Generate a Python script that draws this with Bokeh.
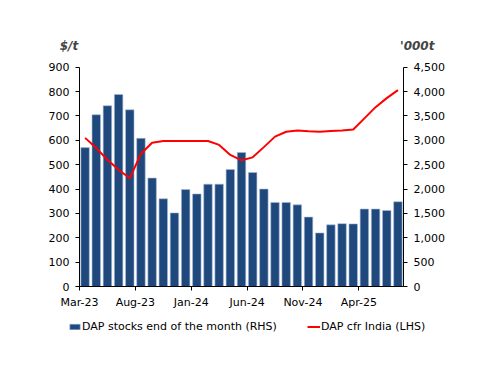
from bokeh.plotting import figure
from bokeh.models import Range1d, LinearAxis, FixedTicker, NumeralTickFormatter, Label, Legend, LegendItem, ColumnDataSource
from bokeh.embed import file_html
from bokeh.resources import INLINE

months = ["Mar-23","Apr-23","May-23","Jun-23","Jul-23","Aug-23","Sep-23","Oct-23","Nov-23","Dec-23",
          "Jan-24","Feb-24","Mar-24","Apr-24","May-24","Jun-24","Jul-24","Aug-24","Sep-24","Oct-24",
          "Nov-24","Dec-24","Jan-25","Feb-25","Mar-25","Apr-25","May-25","Jun-25","Jul-25"]
stocks = [2850, 3525, 3710, 3940, 3625, 3040, 2225, 1800, 1510, 1990,
          1900, 2100, 2100, 2400, 2750, 2340, 2000, 1725, 1725, 1675,
          1425, 1100, 1265, 1290, 1285, 1590, 1590, 1560, 1740]
price = [610, 568, 520, 479, 444, 545, 590, 597, 597, 597,
         597, 597, 581, 540, 518, 530, 572, 615, 635, 640,
         637, 635, 638, 640, 644, 690, 736, 773, 806]
tick_idx = [0, 5, 10, 15, 20, 25]
tick_labels = ["Mar-23", "Aug-23", "Jan-24", "Jun-24", "Nov-24", "Apr-25"]

FONT = "DejaVu Sans"
N = len(months)
xs = [i + 0.5 for i in range(N)]
src = ColumnDataSource(dict(x=xs, stocks=stocks, price=price, month=months))

# frame geometry (pixels) and target axis positions
W, H = 496, 370
BL, BR, BT, BB = 40, 48, 30, 30
AX_L, AX_R = 79.0, 403.0      # left / right axis pixel x
AX_TOP, AX_BOT = 66.7, 286.0  # y pixel of 900 and 0
fx0, fx1 = BL, W - BR
fy0, fy1 = BT, H - BB
ppx = (AX_R - AX_L) / N
ppy = (AX_BOT - AX_TOP) / 900.0
x_start = (fx0 - AX_L) / ppx
x_end = N + (fx1 - AX_R) / ppx
y_end = 900 + (AX_TOP - fy0) / ppy
y_start = -(fy1 - AX_BOT) / ppy

p = figure(width=W, height=H, output_backend="svg", toolbar_location=None,
           x_range=Range1d(x_start, x_end), y_range=Range1d(y_start, y_end),
           min_border_left=BL, min_border_right=BR, min_border_top=BT, min_border_bottom=BB)
p.extra_y_ranges = {"rhs": Range1d(y_start * 5, y_end * 5)}
p.outline_line_color = None
p.xgrid.visible = False
p.ygrid.visible = False

bars = p.vbar(x="x", top="stocks", width=0.76, source=src, y_range_name="rhs",
              fill_color="#1F497D", line_color="#A9BCD6", line_width=0.6)
line = p.line(x="x", y="price", source=src, line_color="#FF0000", line_width=2)

def style_axis(ax):
    ax.axis_line_color = "black"
    ax.axis_line_width = 1
    ax.major_tick_line_color = "black"
    ax.major_tick_out = 4
    ax.major_tick_in = 0
    ax.minor_tick_line_color = None
    ax.major_label_text_font = FONT
    ax.major_label_text_font_size = "11px"
    ax.major_label_text_color = "black"
    ax.major_label_standoff = 6

xa = p.xaxis[0]
style_axis(xa)
xa.ticker = FixedTicker(ticks=tick_idx)
xa.major_label_overrides = {t: l for t, l in zip(tick_idx, tick_labels)}
xa.major_label_standoff = 5
xa.bounds = (0, N)
xa.fixed_location = 0

ya = p.yaxis[0]
style_axis(ya)
ya.ticker = FixedTicker(ticks=list(range(0, 901, 100)))
ya.bounds = (0, 900)
ya.fixed_location = 0

ra = LinearAxis(y_range_name="rhs", ticker=FixedTicker(ticks=list(range(0, 4501, 500))),
                formatter=NumeralTickFormatter(format="0,0"))
style_axis(ra)
ra.bounds = (0, 4500)
ra.fixed_location = N
p.add_layout(ra, "right")

label_y = 900 + (AX_TOP - 45.7) / ppy
p.add_layout(Label(x=(68.5 - AX_L) / ppx, y=label_y, text="$/t", text_font=FONT, text_font_size="12px",
                   text_font_style="bold italic", text_align="center", text_baseline="middle"))
p.add_layout(Label(x=(416.7 - AX_L) / ppx, y=label_y, text="'000t", text_font=FONT, text_font_size="12px",
                   text_font_style="bold italic", text_align="center", text_baseline="middle"))

legend = Legend(items=[LegendItem(label="DAP stocks end of the month (RHS)", renderers=[bars]),
                       LegendItem(label="DAP cfr India (LHS)", renderers=[line])],
                orientation="horizontal", location=(68 - fx0, fy1 - 332.5),
                glyph_width=13, glyph_height=7, label_height=7, label_standoff=1, spacing=30,
                padding=0, margin=0, border_line_color=None, background_fill_alpha=0,
                label_text_font=FONT, label_text_font_size="11px", label_text_color="black")
p.add_layout(legend, "center")

open("out.html", "w").write(file_html(p, INLINE))
